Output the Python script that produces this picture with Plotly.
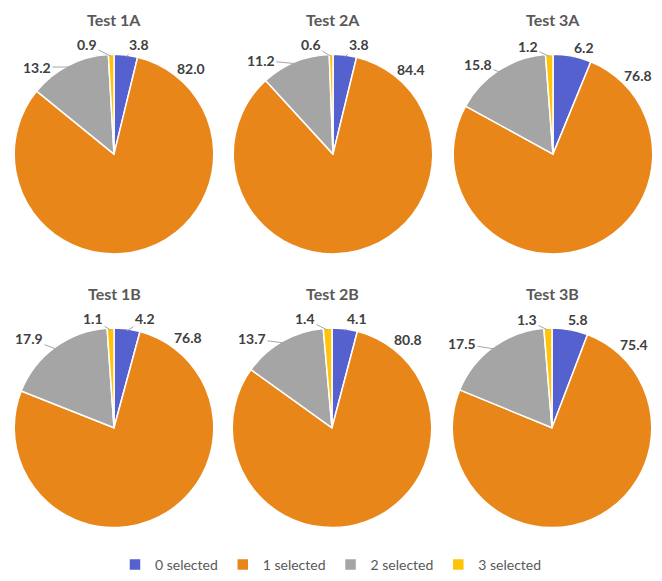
import math
import plotly.graph_objects as go

# ---- data -------------------------------------------------------------
categories = ["0 selected", "1 selected", "2 selected", "3 selected"]
test_names = ["Test 1A", "Test 2A", "Test 3A", "Test 1B", "Test 2B", "Test 3B"]
test_1a = [3.8, 82.0, 13.2, 0.9]
test_2a = [3.8, 84.4, 11.2, 0.6]
test_3a = [6.2, 76.8, 15.8, 1.2]
test_1b = [4.2, 76.8, 17.9, 1.1]
test_2b = [4.1, 80.8, 13.7, 1.4]
test_3b = [5.8, 75.4, 17.5, 1.3]
series = [test_1a, test_2a, test_3a, test_1b, test_2b, test_3b]

# ---- styling / layout -------------------------------------------------
W, H = 662, 581
R = 99          # visible pie radius in px
R_DOMAIN = 101  # domain half-size (plotly trims a little)
colors = ["#5561CF", "#E8861A", "#A5A5A5", "#FFC409"]
centers = [(114, 156), (333, 156), (553, 156), (114, 433), (332, 433), (552, 433)]
title_y = [20, 20, 20, 297, 297, 297]
# label placement (px offsets from pie centre), ordered like the categories
label_offsets = [
    [(25, -111), (77, -87), (-77, -88), (-27, -111)],
    [(26, -111), (78, -86), (-72, -95), (-22, -111)],
    [(31, -108), (85, -80), (-75, -91), (-25, -109)],
    [(31, -110), (74, -91), (-85, -90), (-21, -110)],
    [(25, -110), (76, -89), (-80, -90), (-27, -110)],
    [(26, -109), (82, -84), (-90, -85), (-25, -109)],
]
leader = [True, False, True, True]

FONT = "Lato, 'Open Sans', sans-serif"
TEXT_GREY = "#404040"
TITLE_GREY = "#595959"


def px_to_paper(x, y):
    return x / W, 1 - y / H


fig = go.Figure()
annotations = []

for i, (name, vals) in enumerate(zip(test_names, series)):
    cx, cy = centers[i]
    x0, y_top = px_to_paper(cx - R_DOMAIN, cy - R_DOMAIN)
    x1, y_bot = px_to_paper(cx + R_DOMAIN, cy + R_DOMAIN)
    fig.add_trace(go.Pie(
        labels=categories,
        values=vals,
        name=name,
        sort=False,
        direction="clockwise",
        rotation=0,
        textinfo="none",
        hoverinfo="label+value",
        marker=dict(colors=colors, line=dict(color="white", width=1.5)),
        domain=dict(x=[x0, x1], y=[y_bot, y_top]),
        showlegend=(i == 0),
    ))

    # chart title
    tx, ty = px_to_paper(cx, title_y[i])
    annotations.append(dict(
        x=tx, y=ty, xref="paper", yref="paper", text=f"<b>{name}</b>",
        showarrow=False, font=dict(family=FONT, size=16, color=TITLE_GREY),
        xanchor="center", yanchor="middle",
    ))

    # value labels with leader lines to the slice edge
    total = sum(vals)
    cum = 0.0
    for j, v in enumerate(vals):
        theta = 2 * math.pi * (cum + v / 2) / total
        cum += v
        ex = cx + R * math.sin(theta)
        ey = cy - R * math.cos(theta)
        lx = cx + label_offsets[i][j][0]
        ly = cy + label_offsets[i][j][1]
        txt = f"<b>{v:.1f}</b>"
        font = dict(family=FONT, size=14, color=TEXT_GREY)
        if leader[j]:
            px_, py_ = px_to_paper(ex, ey)
            annotations.append(dict(
                x=px_, y=py_, xref="paper", yref="paper", text=txt,
                showarrow=True, arrowhead=0, arrowwidth=1, arrowcolor="#A6A6A6",
                ax=lx - ex, ay=ly - ey, standoff=0, font=font,
            ))
        else:
            px_, py_ = px_to_paper(lx, ly)
            annotations.append(dict(
                x=px_, y=py_, xref="paper", yref="paper", text=txt,
                showarrow=False, font=font, xanchor="center", yanchor="middle",
            ))

fig.update_layout(
    width=W, height=H,
    margin=dict(l=0, r=0, t=0, b=0),
    paper_bgcolor="white",
    plot_bgcolor="white",
    font=dict(family=FONT, color=TITLE_GREY),
    annotations=annotations,
    legend=dict(
        orientation="h", x=0.5, xanchor="center", y=1 - 572 / H, yanchor="middle",
        font=dict(family=FONT, size=14, color=TITLE_GREY),
        itemwidth=30, traceorder="normal",
    ),
)

fig.write_html("out.html")
